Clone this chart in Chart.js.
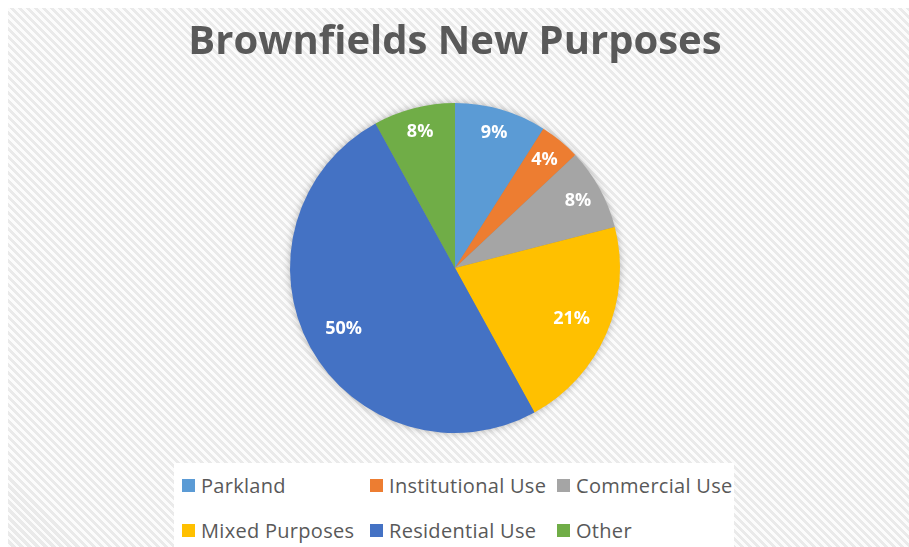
<!DOCTYPE html>
<html>
<head>
<meta charset="utf-8">
<script src="https://cdn.jsdelivr.net/npm/chart.js@4"></script>
<style>
    html, body { margin: 0; padding: 0; background: #fff; }
    #marco {
        position: absolute; left: 8px; top: 8px; width: 901px; height: 539px;
        background: repeating-linear-gradient(45deg, #fcfcfc 0px, #fcfcfc 2.8px, #eaeaea 2.8px, #eaeaea 5.66px);
    }
    #lienzo { position: absolute; left: 0; top: 0; }
    #leyenda {
        position: absolute; left: 174px; top: 463px; width: 560px; height: 84px;
        background: #fff;
        display: grid; grid-template-columns: 188px 187px 185px; grid-auto-rows: 45px;
        padding-left: 8px; box-sizing: border-box;
    }
    .item { display: flex; align-items: center; font: 20px "Open Sans", sans-serif; letter-spacing: 0.3px; color: #595959; white-space: nowrap; }
    .caja { width: 13px; height: 13px; margin-right: 6px; flex: none; }
</style>
</head>
<body>
<div id="marco"></div>
<div id="leyenda"></div>
<canvas id="lienzo" width="909" height="547"></canvas>
<script>
// Datos del gráfico
const categorias = ['Parkland', 'Institutional Use', 'Commercial Use', 'Mixed Purposes', 'Residential Use', 'Other'];
const porcentajes = [9, 4, 8, 21, 50, 8];
const colores = ['#5B9BD5', '#ED7D31', '#A5A5A5', '#FFC000', '#4472C4', '#70AD47'];

// Sombra suave alrededor del pastel
const sombraPlugin = {
    id: 'sombra',
    beforeDatasetsDraw(chart) {
        const arco = chart.getDatasetMeta(0).data[0];
        if (!arco) return;
        const { x, y, outerRadius } = arco.getProps(['x', 'y', 'outerRadius'], true);
        const ctx = chart.ctx;
        ctx.save();
        ctx.shadowColor = 'rgba(0,0,0,0.35)';
        ctx.shadowBlur = 9;
        ctx.fillStyle = '#888';
        ctx.beginPath();
        ctx.arc(x, y, outerRadius - 1, 0, Math.PI * 2);
        ctx.fill();
        ctx.restore();
    }
};

// Etiquetas de porcentaje dentro de cada porción
const etiquetasPlugin = {
    id: 'etiquetas',
    afterDatasetsDraw(chart) {
        const ctx = chart.ctx;
        const valores = chart.data.datasets[0].data;
        ctx.save();
        ctx.font = 'bold 18px "Open Sans", sans-serif';
        ctx.fillStyle = '#fff';
        ctx.textAlign = 'center';
        ctx.textBaseline = 'middle';
        chart.getDatasetMeta(0).data.forEach((arco, i) => {
            const p = arco.getProps(['x', 'y', 'startAngle', 'endAngle', 'outerRadius'], true);
            const medio = (p.startAngle + p.endAngle) / 2;
            const r = p.outerRadius * (valores[i] >= 15 ? 0.77 : 0.85);
            ctx.fillText(valores[i] + '%', p.x + Math.cos(medio) * r, p.y + Math.sin(medio) * r);
        });
        ctx.restore();
    }
};

const grafico = new Chart(document.getElementById('lienzo'), {
    type: 'pie',
    data: {
        labels: categorias,
        datasets: [{
            data: porcentajes,
            backgroundColor: colores,
            borderWidth: 0
        }]
    },
    options: {
        responsive: false,
        animation: false,
        radius: 165,
        layout: { padding: { top: 9, left: 1, right: 0, bottom: 88 } },
        plugins: {
            legend: { display: false },
            tooltip: { enabled: false },
            title: {
                display: true,
                text: 'Brownfields New Purposes',
                color: '#595959',
                font: { family: '"Open Sans"', weight: 'bold', size: 40 },
                padding: { top: 10, bottom: 10 }
            }
        }
    },
    plugins: [sombraPlugin, etiquetasPlugin]
});

// Leyenda en HTML con columnas alineadas
const leyenda = document.getElementById('leyenda');
categorias.forEach((nombre, i) => {
    const div = document.createElement('div');
    div.className = 'item';
    div.innerHTML = `<span class="caja" style="background:${colores[i]}"></span>${nombre}`;
    leyenda.appendChild(div);
});
</script>
</body>
</html>
